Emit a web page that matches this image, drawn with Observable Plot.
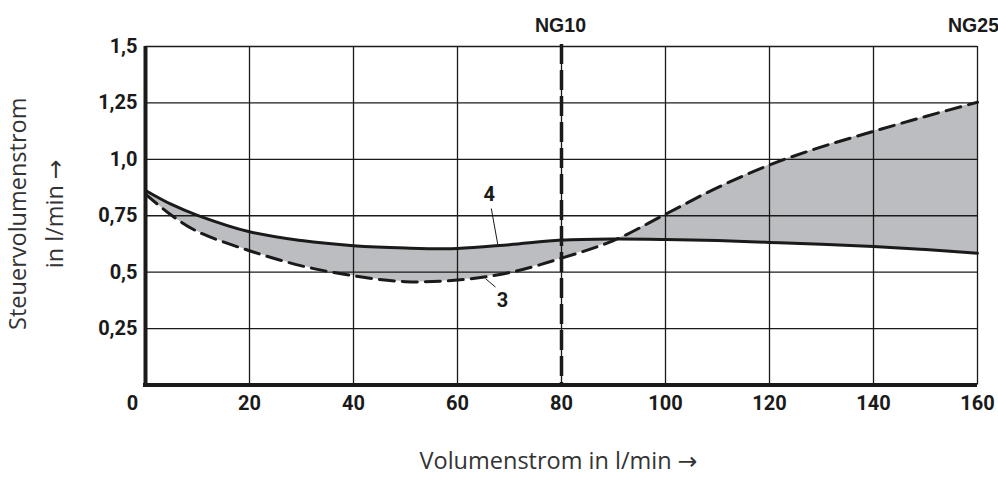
<!DOCTYPE html>
<html><head><meta charset="utf-8">
<script src="https://cdn.jsdelivr.net/npm/d3@7"></script>
<script src="https://cdn.jsdelivr.net/npm/@observablehq/plot@0.6"></script>
<style>html,body{margin:0;padding:0;background:#fff;overflow:hidden} svg{display:block}</style>
</head><body><div id="chart"></div>
<script>
// Volumenstrom in l/min
const flow = [0, 5, 10, 20, 30, 40, 50, 60, 70, 80, 90, 100, 110, 120, 130, 140, 150, 160];
// curve 4 (solid)
const curve4 = [0.862, 0.800, 0.752, 0.679, 0.640, 0.617, 0.607, 0.605, 0.622, 0.642, 0.647, 0.645, 0.640, 0.632, 0.624, 0.614, 0.600, 0.584];
// curve 3 (dashed)
const curve3 = [0.846, 0.752, 0.680, 0.595, 0.528, 0.484, 0.458, 0.465, 0.498, 0.562, 0.640, 0.757, 0.875, 0.975, 1.055, 1.124, 1.190, 1.253];
const xTicks = [20, 40, 60, 80, 100, 120, 140, 160];
const xZero = [0];
const yTicks = [0.25, 0.5, 0.75, 1.0, 1.25, 1.5];
const yTickLabels = ["0,25", "0,5", "0,75", "1,0", "1,25", "1,5"];
const sizeLines = [80, 160];
const sizeLabels = ["NG10", "NG25"];
const curveNames = ["4", "3"];
const curveNameX = [66.1, 68.65];
const curveNameY = [0.845, 0.375];
const leaderX1 = [66.5, 67.3], leaderY1 = [0.782, 0.434];
const leaderX2 = [67.75, 65.4], leaderY2 = [0.622, 0.471];

const rows = flow.map((x, i) => ({x, s: curve4[i], d: curve3[i]}));
const ink = "#1a1a1a";
const tickFont = "Roboto, 'Open Sans', sans-serif";
const titleFont = "'Open Sans', 'DejaVu Sans', sans-serif";

const chart = Plot.plot({
  width: 998, height: 477,
  marginLeft: 145, marginRight: 21, marginTop: 46, marginBottom: 92.5,
  style: {background: "#fff", overflow: "visible"},
  x: {domain: [0, 160], axis: null},
  y: {domain: [0, 1.5], axis: null},
  marks: [
    Plot.areaY(rows, {x: "x", y1: "d", y2: "s", fill: "#bcbdc0", curve: "catmull-rom"}),
    Plot.ruleX(xTicks, {stroke: ink, strokeWidth: 1.3}),
    Plot.ruleY(yTicks, {stroke: ink, strokeWidth: 1.3}),
    Plot.lineY(rows, {x: "x", y: "s", stroke: ink, strokeWidth: 3, curve: "catmull-rom"}),
    Plot.lineY(rows, {x: "x", y: "d", stroke: ink, strokeWidth: 3, strokeDasharray: "15,8", curve: "catmull-rom"}),
    Plot.ruleX([80], {y1: 1.5, y2: 0, insetTop: -2, stroke: ink, strokeWidth: 3.5, strokeDasharray: "20,6"}),
    Plot.ruleX([0], {stroke: ink, strokeWidth: 4, insetBottom: -2}),
    Plot.ruleY([0], {stroke: ink, strokeWidth: 4, insetLeft: -2}),
    // curve leader lines and labels
    Plot.link(curveNames, {x1: (d, i) => leaderX1[i], y1: (d, i) => leaderY1[i], x2: (d, i) => leaderX2[i], y2: (d, i) => leaderY2[i], stroke: ink, strokeWidth: 1}),
    Plot.text(curveNames, {x: (d, i) => curveNameX[i], y: (d, i) => curveNameY[i], text: d => d, fontFamily: tickFont, fontWeight: "bold", fontSize: 20, fill: ink}),
    // tick labels
    Plot.text(xTicks, {x: d => d, text: d => String(d), frameAnchor: "bottom", lineAnchor: "top", dy: 11, fontFamily: tickFont, fontWeight: "bold", fontSize: 20, fill: ink}),
    Plot.text(xZero, {x: d => d, text: d => String(d), frameAnchor: "bottom", lineAnchor: "top", dy: 11, dx: -13, fontFamily: tickFont, fontWeight: "bold", fontSize: 20, fill: ink}),
    Plot.text(yTicks, {y: d => d, text: (d, i) => yTickLabels[i], frameAnchor: "left", textAnchor: "end", dx: -8, fontFamily: tickFont, fontWeight: "bold", fontSize: 20, fill: ink}),
    // size labels
    Plot.text(sizeLines.slice(0, 1), {x: d => d, text: (d, i) => sizeLabels[i], frameAnchor: "top", dy: -28, dx: -1, fontFamily: "'Liberation Sans', Arial, sans-serif", fontWeight: "bold", fontSize: 19.5, fill: ink}),
    Plot.text(sizeLines.slice(1), {x: d => d, text: (d, i) => sizeLabels[i + 1], frameAnchor: "top", dy: -28, dx: -4, fontFamily: "'Liberation Sans', Arial, sans-serif", fontWeight: "bold", fontSize: 19.5, fill: ink}),
    // axis titles
    Plot.text(["Volumenstrom in l/min →"], {text: d => d, frameAnchor: "bottom", textAnchor: "middle", dy: 84, dx: -3, fontFamily: titleFont, fontSize: 23.5, fill: "#333"}),
    Plot.text(["Steuervolumenstrom"], {text: d => d, frameAnchor: "left", textAnchor: "middle", rotate: -90, dx: -127.5, dy: -2, fontFamily: titleFont, fontSize: 23.5, fill: "#333"}),
    Plot.text(["in l/min →"], {text: d => d, frameAnchor: "left", textAnchor: "middle", rotate: -90, dx: -90.5, dy: -2, fontFamily: titleFont, fontSize: 23.5, fill: "#333"})
  ]
});
document.getElementById("chart").appendChild(chart);
</script>
</body></html>
